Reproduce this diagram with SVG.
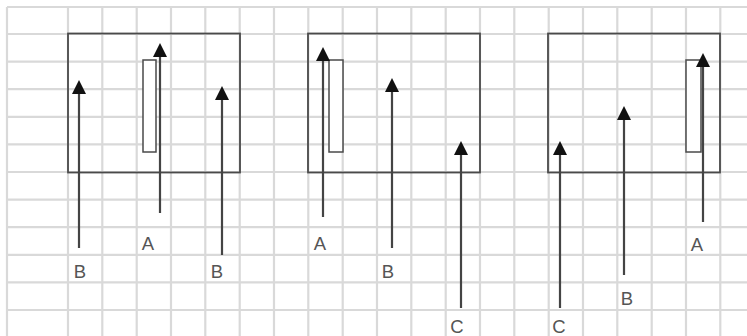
<svg xmlns="http://www.w3.org/2000/svg" width="747" height="336" viewBox="0 0 747 336">
<style>
.grid{stroke:#d9d9d9;stroke-width:2.2;fill:none}
.box{fill:none;stroke:#4a4a4a;stroke-width:1.8}
.slot{fill:#fff;stroke:#4a4a4a;stroke-width:1.5}
.arr{stroke:#444;stroke-width:2.2;fill:none;marker-end:url(#ah)}
.lbl{font-family:"Liberation Sans",Arial,sans-serif;font-size:18.5px;fill:#555;text-anchor:middle}
</style>
<defs>
<marker id="ah" viewBox="0 0 14 14" refX="10" refY="7" markerWidth="14" markerHeight="14" markerUnits="userSpaceOnUse" orient="auto">
<path d="M0,0 L14,7 L0,14 z" fill="#111"/>
</marker>
</defs>
<rect width="747" height="336" fill="#fff"/>
<g id="grid" class="grid">
<path d="M7,7V336 M68,7V336 M102.3,7V336 M136.7,7V336 M171,7V336 M205.3,7V336 M239.7,7V336 M274,7V336 M308.3,7V336 M342.7,7V336 M377,7V336 M411.3,7V336 M445.7,7V336 M480,7V336 M514.3,7V336 M548.7,7V336 M583,7V336 M617.3,7V336 M651.7,7V336 M686,7V336 M720.3,7V336"/>
<path d="M7,7H747 M7,34H747 M7,61.6H747 M7,89.2H747 M7,116.8H747 M7,144.4H747 M7,172H747 M7,199.6H747 M7,227.2H747 M7,254.8H747 M7,282.4H747 M7,310H747"/>
</g>
<g id="panel1">
<rect class="box" x="68" y="33.5" width="172" height="139"/>
<rect class="slot" x="143" y="60" width="13" height="92"/>
</g>
<g id="panel2">
<rect class="box" x="308" y="33.5" width="172" height="139"/>
<rect class="slot" x="329" y="60" width="14" height="92"/>
</g>
<g id="panel3">
<rect class="box" x="548" y="33.5" width="172" height="139"/>
<rect class="slot" x="686" y="60" width="15" height="92"/>
</g>
<g id="connectors">
<line class="arr" x1="79" y1="248" x2="79" y2="84"/>
<line class="arr" x1="160" y1="213" x2="160" y2="47"/>
<line class="arr" x1="222" y1="255" x2="222" y2="90"/>
<line class="arr" x1="323" y1="217" x2="323" y2="51"/>
<line class="arr" x1="392" y1="248" x2="392" y2="82"/>
<line class="arr" x1="461" y1="308" x2="461" y2="145"/>
<line class="arr" x1="560" y1="308" x2="560" y2="145"/>
<line class="arr" x1="624" y1="275" x2="624" y2="110"/>
<line class="arr" x1="703" y1="222" x2="703" y2="57"/>
</g>
<g id="labels">
<text class="lbl" x="148" y="250">A</text>
<text class="lbl" x="80" y="278">B</text>
<text class="lbl" x="217" y="278">B</text>
<text class="lbl" x="320" y="250">A</text>
<text class="lbl" x="388" y="278">B</text>
<text class="lbl" x="457" y="333">C</text>
<text class="lbl" x="559" y="333">C</text>
<text class="lbl" x="627" y="305">B</text>
<text class="lbl" x="697" y="251">A</text>
</g>
</svg>
